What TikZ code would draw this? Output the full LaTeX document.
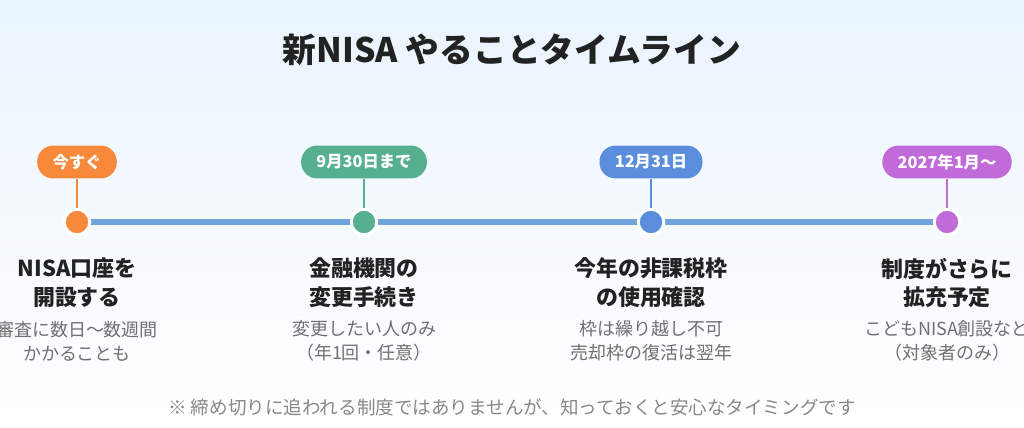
\documentclass[tikz,border=0pt]{standalone}
\usepackage{fontspec}
\setmainfont{Noto Sans CJK JP}
\usetikzlibrary{positioning}
\definecolor{bgTop}{HTML}{EAF4FE}
\definecolor{lineBlue}{HTML}{6FA3DC}
\definecolor{nowOrange}{HTML}{F68A3A}
\definecolor{sepGreen}{HTML}{56B08F}
\definecolor{decBlue}{HTML}{5A8DDC}
\definecolor{kidPurple}{HTML}{C06BD9}
\definecolor{headInk}{HTML}{222222}
\definecolor{subInk}{HTML}{707070}
\definecolor{noteInk}{HTML}{888888}
\begin{document}
\begin{tikzpicture}[x=0.025cm,y=-0.025cm,
  tag/.style={rounded corners=11.4pt, minimum height=23.4pt, inner xsep=10.9pt,
    inner ysep=0pt, text=white, font=\fontsize{11.6}{13}\selectfont\bfseries},
  dotmark/.style={circle, draw=white, line width=2.1pt, minimum size=18.2pt, inner sep=0pt},
  stem/.style={line width=1.7pt},
  timeline/.style={lineBlue, line width=3.6pt},
  headline/.style={align=center, text=headInk, font=\fontsize{15.6}{20.6}\selectfont\bfseries},
  subline/.style={align=center, text=subInk, font=\fontsize{12.8}{17.1}\selectfont}]
  % canvas
  \useasboundingbox (0,0) rectangle (1024,427);
  \fill[top color=bgTop, bottom color=white] (0,0) rectangle (1024,427);
  \node[text=headInk, font=\fontsize{24}{28}\selectfont\bfseries] (title) at (512,50)
  {新NISA やることタイムライン};
  % timeline
  \coordinate (p1) at (77,222);
  \coordinate (p2) at (364,222);
  \coordinate (p3) at (651,222);
  \coordinate (p4) at (947,222);
  \draw[timeline] (p1) -- (p4);
  \node[dotmark, fill=nowOrange] (dot1) at (p1) {};
  \node[dotmark, fill=sepGreen] (dot2) at (p2) {};
  \node[dotmark, fill=decBlue] (dot3) at (p3) {};
  \node[dotmark, fill=kidPurple] (dot4) at (p4) {};
  \node[tag, fill=nowOrange] (tag1) at (77,162) {今すぐ};
  \node[tag, fill=sepGreen] (tag2) at (364,162) {9月30日まで};
  \node[tag, fill=decBlue] (tag3) at (651,162) {12月31日};
  \node[tag, fill=kidPurple] (tag4) at (947,162) {2027年1月～};
  \draw[stem, nowOrange] (tag1.south) -- (dot1.north);
  \draw[stem, sepGreen] (tag2.south) -- (dot2.north);
  \draw[stem, decBlue] (tag3.south) -- (dot3.north);
  \draw[stem, kidPurple] (tag4.south) -- (dot4.north);
  % steps
  \node[headline] (head1) at (77,283) {NISA口座を\\開設する};
  \node[headline] (head2) at (364,283) {金融機関の\\変更手続き};
  \node[headline] (head3) at (651,283) {今年の非課税枠\\の使用確認};
  \node[headline] (head4) at (947,283) {制度がさらに\\拡充予定};
  \node[subline] (sub1) at (77,341) {審査に数日～数週間\\かかることも};
  \node[subline] (sub2) at (364,341) {変更したい人のみ\\（年1回・任意）};
  \node[subline] (sub3) at (651,341) {枠は繰り越し不可\\売却枠の復活は翌年};
  \node[subline] (sub4) at (947,341) {こどもNISA創設など\\（対象者のみ）};
  \node[text=noteInk, font=\fontsize{13.2}{15}\selectfont] (note) at (512,407)
  {※ 締め切りに追われる制度ではありませんが、知っておくと安心なタイミングです};
\end{tikzpicture}
\end{document}
